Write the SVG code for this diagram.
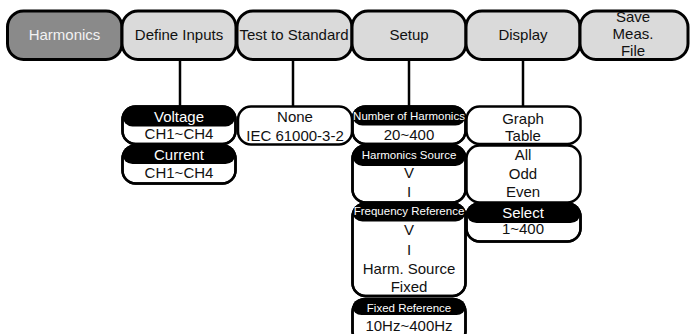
<svg xmlns="http://www.w3.org/2000/svg" width="690" height="334" viewBox="0 0 690 334">
<style>
text{font-family:"Liberation Sans",Arial,sans-serif;text-anchor:middle;fill:#111}
.top{font-size:15px}
.tb{fill:#dadada;stroke:#000;stroke-width:3}
.act{fill:#8a8a8a}
.lt{fill:#f2f2f2}
.box{fill:#fff;stroke:#000;stroke-width:2.5}
.frame{fill:none;stroke:#000;stroke-width:2.5}
.hd{fill:#000}
.b{font-size:15px}
.h{font-size:15px;fill:#fff}
.s{font-size:11.5px;fill:#fff}
.conn line{stroke:#000;stroke-width:2.5}
</style>
<g id="connectors" class="conn">
<line x1="180" y1="60" x2="180" y2="106"/>
<line x1="293" y1="60" x2="293" y2="106"/>
<line x1="409" y1="60" x2="409" y2="106"/>
<line x1="523" y1="60" x2="523" y2="106"/>
</g>
<g id="harmonics"><rect class="tb act" x="7.5" y="11" width="114.5" height="48.5" rx="16"/><text class="top lt" x="64.5" y="39.5">Harmonics</text></g>
<g id="define-inputs"><rect class="tb" x="122" y="11" width="114" height="48.5" rx="16"/><text class="top" x="179" y="39.5">Define Inputs</text></g>
<g id="test-to-standard"><rect class="tb" x="237" y="11" width="115" height="48.5" rx="16"/><text class="top" x="294" y="39.5">Test to Standard</text></g>
<g id="setup"><rect class="tb" x="352" y="11" width="114" height="48.5" rx="16"/><text class="top" x="409" y="39.5">Setup</text></g>
<g id="display"><rect class="tb" x="466" y="11" width="114" height="48.5" rx="16"/><text class="top" x="523" y="39.5">Display</text></g>
<g id="save"><rect class="tb" x="580" y="11" width="108" height="48.5" rx="16"/><text class="top" x="633" y="21.5">Save</text><text class="top" x="633" y="39">Meas.</text><text class="top" x="633" y="56">File</text></g>

<g id="voltage"><rect class="box" x="122.5" y="106.5" width="113" height="37.5" rx="13"/><rect class="hd" x="122.5" y="106.5" width="113" height="20" rx="10"/><rect class="frame" x="122.5" y="106.5" width="113" height="37.5" rx="13"/><text class="h" x="179" y="121.5">Voltage</text><text class="b" x="179" y="138.5">CH1~CH4</text></g>
<g id="current"><rect class="box" x="122.5" y="145.5" width="113" height="38" rx="13"/><rect class="hd" x="122.5" y="145.5" width="113" height="18.5" rx="10"/><rect class="frame" x="122.5" y="145.5" width="113" height="38" rx="13"/><text class="h" x="179" y="159.5">Current</text><text class="b" x="179" y="178">CH1~CH4</text></g>

<g id="standard"><rect class="box" x="238" y="106.5" width="114" height="38" rx="13"/><text class="b" x="295" y="121.5">None</text><text class="b" x="295" y="140.5">IEC 61000-3-2</text></g>

<g id="num-harmonics"><rect class="box" x="352.5" y="106.5" width="113" height="37.5" rx="13"/><rect class="hd" x="352.5" y="106.5" width="113" height="19" rx="10"/><rect class="frame" x="352.5" y="106.5" width="113" height="37.5" rx="13"/><text class="s" x="409" y="120">Number of Harmonics</text><text class="b" x="409" y="139.5">20~400</text></g>
<g id="harm-source"><rect class="box" x="352.5" y="145.5" width="113" height="57" rx="13"/><rect class="hd" x="352.5" y="145.5" width="113" height="20.5" rx="10"/><rect class="frame" x="352.5" y="145.5" width="113" height="57" rx="13"/><text class="s" x="409" y="159">Harmonics Source</text><text class="b" x="409" y="178">V</text><text class="b" x="409" y="196.5">I</text></g>
<g id="freq-ref"><rect class="box" x="352.5" y="203.5" width="113" height="92.5" rx="13"/><rect class="hd" x="352.5" y="203.5" width="113" height="18" rx="10"/><rect class="frame" x="352.5" y="203.5" width="113" height="92.5" rx="13"/><text class="s" x="409" y="214.5">Frequency Reference</text><text class="b" x="409" y="234.5">V</text><text class="b" x="409" y="255">I</text><text class="b" x="409" y="274">Harm. Source</text><text class="b" x="409" y="292">Fixed</text></g>
<g id="fixed-ref"><rect class="box" x="352.5" y="299" width="113" height="45" rx="13"/><rect class="hd" x="352.5" y="299" width="113" height="16" rx="9"/><rect class="frame" x="352.5" y="299" width="113" height="45" rx="13"/><text class="s" x="409" y="311.5">Fixed Reference</text><text class="b" x="409" y="330.5">10Hz~400Hz</text></g>

<g id="view"><rect class="box" x="466.5" y="106.5" width="114" height="37.5" rx="13"/><text class="b" x="523" y="123.5">Graph</text><text class="b" x="523" y="141">Table</text></g>
<g id="order"><rect class="box" x="466.5" y="145.5" width="114" height="57" rx="13"/><text class="b" x="523" y="160">All</text><text class="b" x="523" y="179">Odd</text><text class="b" x="523" y="197">Even</text></g>
<g id="select"><rect class="box" x="466.5" y="203.5" width="114" height="38" rx="13"/><rect class="hd" x="466.5" y="203.5" width="114" height="19.5" rx="10"/><rect class="frame" x="466.5" y="203.5" width="114" height="38" rx="13"/><text class="h" x="523" y="217.5">Select</text><text class="b" x="523" y="234">1~400</text></g>
</svg>
